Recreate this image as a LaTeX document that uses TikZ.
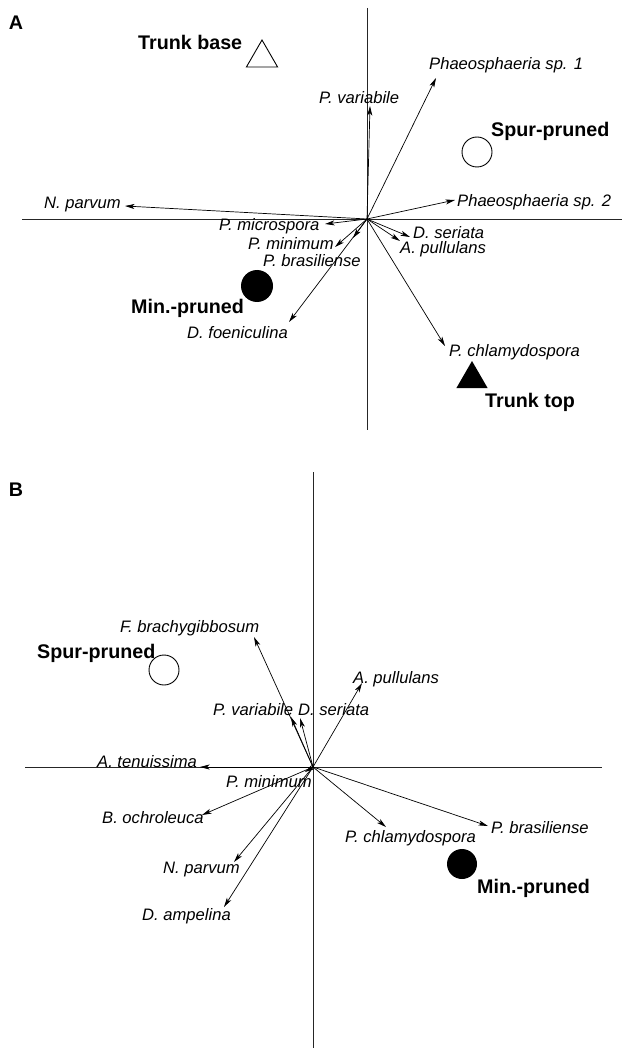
\documentclass[tikz,border=0pt]{standalone}
\usepackage{fontspec}
\setmainfont{Liberation Sans}
\usetikzlibrary{shapes.geometric, arrows.meta, positioning}

\begin{document}
\begin{tikzpicture}[x=1pt, y=-1pt]
    \tikzset{
        axisline/.style = {draw, line width=0.9pt, black!85},
        vec/.style = {draw, line width=0.7pt, -{Stealth[length=9.5pt, width=5pt, inset=2.5pt]}},
        species/.style = {anchor=west, inner sep=0pt, text height=11pt, text depth=1pt, font=\fontsize{16.6}{18}\selectfont\itshape},
        group/.style = {anchor=west, inner sep=0pt, text height=14.5pt, text depth=1pt, font=\fontsize{19.7}{22}\selectfont\bfseries},
        panel/.style = {inner sep=0pt, font=\fontsize{19.7}{22}\selectfont\bfseries},
        opencirc/.style = {circle, draw, line width=0.9pt, minimum size=30pt, inner sep=0pt},
        fullcirc/.style = {circle, fill=black, minimum size=32pt, inner sep=0pt},
        opentri/.style = {regular polygon, regular polygon sides=3, draw, line width=0.9pt, minimum size=36pt, inner sep=0pt},
        fulltri/.style = {regular polygon, regular polygon sides=3, fill=black, minimum size=36pt, inner sep=0pt}
    }
    \useasboundingbox (0,0) rectangle (622,1048);

    % panel A
    \node[panel] (labA) at (16,23) {A};
    \coordinate (oA) at (367,219);
    \coordinate (axAw) at (22,219);
    \coordinate (axAe) at (622,219);
    \coordinate (axAn) at (367,8);
    \coordinate (axAs) at (367,430);
    \path[axisline] (axAw) -- (axAe);
    \path[axisline] (axAn) -- (axAs);

    \node[opentri] (tbase) at (262,58) {};
    \node[group] (tbaseL) at (138,43) {Trunk base};
    \node[opencirc] (spurA) at (477,152) {};
    \node[group] (spurAL) at (491,130) {Spur-pruned};
    \node[fullcirc] (minA) at (257,286) {};
    \node[group] (minAL) at (131,307) {Min.-pruned};
    \node[fulltri] (ttop) at (472,379) {};
    \node[group] (ttopL) at (485,401) {Trunk top};

    \coordinate (aPh1) at (436,78);
    \coordinate (aPva) at (370,106);
    \coordinate (aPh2) at (455,200);
    \coordinate (aNpa) at (125,206);
    \coordinate (aPmi) at (325,224);
    \coordinate (aPmn) at (335,247);
    \coordinate (aPbr) at (353,238);
    \coordinate (aDse) at (410,237);
    \coordinate (aApu) at (400,241);
    \coordinate (aDfo) at (289,322);
    \coordinate (aPch) at (445,346);

    \node[species] (aPh1L) at (429,65) {Phaeosphaeria sp. 1};
    \node[species] (aPvaL) at (319,99) {P. variabile};
    \node[species] (aPh2L) at (457,202) {Phaeosphaeria sp. 2};
    \node[species] (aNpaL) at (44,204) {N. parvum};
    \node[species] (aPmiL) at (219,226) {P. microspora};
    \node[species] (aPmnL) at (248,245) {P. minimum};
    \node[species] (aPbrL) at (263,262) {P. brasiliense};
    \node[species] (aDseL) at (413,234) {D. seriata};
    \node[species] (aApuL) at (400,249) {A. pullulans};
    \node[species] (aDfoL) at (187,333) {D. foeniculina};
    \node[species] (aPchL) at (449,351) {P. chlamydospora};

    \path[vec] (oA) -- (aPh1);
    \path[vec] (oA) -- (aPva);
    \path[vec] (oA) -- (aPh2);
    \path[vec] (oA) -- (aNpa);
    \path[vec] (oA) -- (aPmi);
    \path[vec] (oA) -- (aPmn);
    \path[vec] (oA) -- (aPbr);
    \path[vec] (oA) -- (aDse);
    \path[vec] (oA) -- (aApu);
    \path[vec] (oA) -- (aDfo);
    \path[vec] (oA) -- (aPch);

    % panel B
    \node[panel] (labB) at (16,490) {B};
    \coordinate (oB) at (313,767);
    \coordinate (axBw) at (25,767);
    \coordinate (axBe) at (602,767);
    \coordinate (axBn) at (313,472);
    \coordinate (axBs) at (313,1048);
    \path[axisline] (axBw) -- (axBe);
    \path[axisline] (axBn) -- (axBs);

    \node[opencirc] (spurB) at (164,670) {};
    \node[group] (spurBL) at (37,652) {Spur-pruned};
    \node[fullcirc, minimum size=30pt] (minB) at (462,864) {};
    \node[group] (minBL) at (477,887) {Min.-pruned};

    \coordinate (bFbr) at (254,637);
    \coordinate (bApu) at (362,683);
    \coordinate (bPva) at (291,717);
    \coordinate (bDse) at (300,718);
    \coordinate (bAte) at (200,767);
    \coordinate (bPmn) at (305,772);
    \coordinate (bBoc) at (202,815);
    \coordinate (bNpa) at (234,862);
    \coordinate (bDam) at (224,907);
    \coordinate (bPch) at (386,827);
    \coordinate (bPbr) at (488,826);

    \node[species] (bFbrL) at (120,627) {F. brachygibbosum};
    \node[species] (bApuL) at (353,678) {A. pullulans};
    \node[species] (bPvaL) at (213,710) {P. variabile};
    \node[species] (bDseL) at (298,710) {D. seriata};
    \node[species] (bAteL) at (97,762) {A. tenuissima};
    \node[species] (bPmnL) at (226,782) {P. minimum};
    \node[species] (bBocL) at (102,818) {B. ochroleuca};
    \node[species] (bNpaL) at (163,868) {N. parvum};
    \node[species] (bDamL) at (142,915) {D. ampelina};
    \node[species] (bPchL) at (345,837) {P. chlamydospora};
    \node[species] (bPbrL) at (491,828) {P. brasiliense};

    \path[vec] (oB) -- (bFbr);
    \path[vec] (oB) -- (bApu);
    \path[vec] (oB) -- (bPva);
    \path[vec] (oB) -- (bDse);
    \path[vec] (oB) -- (bAte);
    \path[vec] (oB) -- (bPmn);
    \path[vec] (oB) -- (bBoc);
    \path[vec] (oB) -- (bNpa);
    \path[vec] (oB) -- (bDam);
    \path[vec] (oB) -- (bPch);
    \path[vec] (oB) -- (bPbr);
\end{tikzpicture}
\end{document}
